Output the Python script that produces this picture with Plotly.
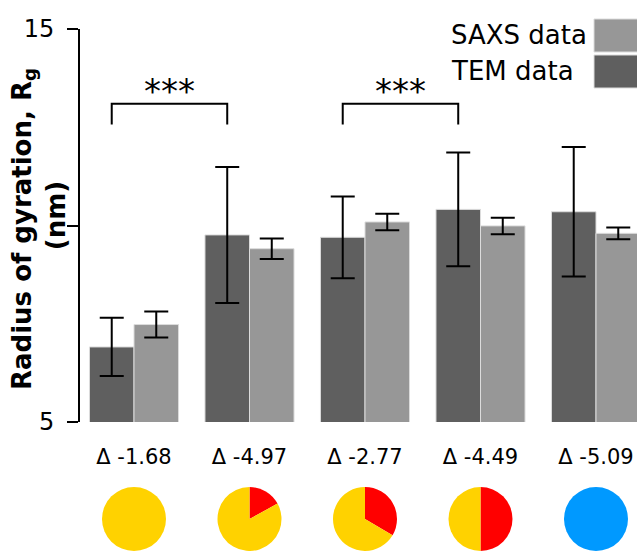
import plotly.graph_objects as go

# ---- data ----
categories = ["Δ -1.68", "Δ -4.97", "Δ -2.77", "Δ -4.49", "Δ -5.09"]
tem_values = [6.91, 9.76, 9.70, 10.41, 10.35]
tem_errors = [0.74, 1.73, 1.04, 1.45, 1.65]
saxs_values = [7.48, 9.41, 10.09, 9.99, 9.80]
saxs_errors = [0.33, 0.26, 0.21, 0.21, 0.15]
red_fraction = [0.0, 0.17, 0.335, 0.5, 0.0]
yellow_fraction = [1.0, 0.83, 0.665, 0.5, 0.0]
blue_fraction = [0.0, 0.0, 0.0, 0.0, 1.0]
brackets = [(0, 1), (2, 3)]          # TEM bars compared
bracket_low, bracket_high, star_y = 12.57, 13.10, 12.86
y_major_ticks = [5, 15]
y_minor_ticks = [10]

# ---- styling / layout constants ----
W, H = 637, 551
FONT = "DejaVu Sans"
TEM_COLOR = "#5f5f5f"
SAXS_COLOR = "#979797"
EDGE = "#dcdcdc"
X_RANGE = [-0.4675, 4.355]
X_DOMAIN = [80 / W, 1.0]
Y_DOMAIN = [(H - 422) / H, (H - 29) / H]
BARGAP = 0.229

x = list(range(len(categories)))
fig = go.Figure()
fig.add_trace(go.Bar(
    x=x, y=tem_values, name="TEM data",
    marker=dict(color=TEM_COLOR, line=dict(color=EDGE, width=1)),
    error_y=dict(type="data", array=tem_errors, color="black", thickness=2, width=12),
    showlegend=False,
))
fig.add_trace(go.Bar(
    x=x, y=saxs_values, name="SAXS data",
    marker=dict(color=SAXS_COLOR, line=dict(color=EDGE, width=1)),
    error_y=dict(type="data", array=saxs_errors, color="black", thickness=2, width=12),
    showlegend=False,
))

# pies below each category, positioned from the x-axis mapping
def x_to_paper(v):
    frac = (v - X_RANGE[0]) / (X_RANGE[1] - X_RANGE[0])
    return X_DOMAIN[0] + frac * (X_DOMAIN[1] - X_DOMAIN[0])

pie_r_px = 33
pie_top_px = 487
for i in x:
    cx = x_to_paper(i)
    labels, vals, cols = [], [], []
    for lab, frac, col in (("red", red_fraction[i], "#FF0000"),
                           ("yellow", yellow_fraction[i], "#FFD200"),
                           ("blue", blue_fraction[i], "#0099FF")):
        if frac > 0:
            labels.append(lab); vals.append(frac); cols.append(col)
    fig.add_trace(go.Pie(
        labels=labels, values=vals, marker=dict(colors=cols, line=dict(width=0)),
        sort=False, direction="clockwise", rotation=0, textinfo="none",
        hoverinfo="skip", showlegend=False,
        domain=dict(x=[cx - pie_r_px / W, cx + pie_r_px / W],
                    y=[0, (H - pie_top_px) / H]),
    ))

# significance brackets
offset = -(1 - BARGAP) / 4
shapes = []
annotations = []
for a, b in brackets:
    x1, x2 = a + offset, b + offset
    shapes.append(dict(type="path", xref="x", yref="y",
                       path=f"M {x1},{bracket_low} L {x1},{bracket_high} L {x2},{bracket_high} L {x2},{bracket_low}",
                       line=dict(color="black", width=2)))
    annotations.append(dict(x=(x1 + x2) / 2, y=star_y, xref="x", yref="y", text="***",
                            showarrow=False, font=dict(family=FONT, size=34, color="black"),
                            yanchor="bottom"))

# legend (text left, swatch right)
legend_items = [("SAXS data", SAXS_COLOR, 19, 52), ("TEM data", TEM_COLOR, 55, 88)]
for name, col, top, bot in legend_items:
    shapes.append(dict(type="rect", xref="paper", yref="paper",
                       x0=594 / W, x1=1.02, y0=(H - bot) / H, y1=(H - top) / H,
                       fillcolor=col, line=dict(color=EDGE, width=1)))
    annotations.append(dict(x=449 / W, y=(H - (top + bot) / 2) / H, xref="paper", yref="paper",
                            text=name, showarrow=False, xanchor="left", yanchor="middle",
                            font=dict(family=FONT, size=26, color="black")))

# y-axis title
annotations.append(dict(x=39 / W, y=(H - 229) / H, xref="paper", yref="paper",
                        text="<b>Radius of gyration, R<sub>g</sub></b><br><b>&nbsp;&nbsp;&nbsp;(nm)</b>",
                        textangle=-90, showarrow=False, xanchor="center", yanchor="middle",
                        font=dict(family=FONT, size=26, color="black")))

fig.update_layout(
    width=W, height=H, margin=dict(l=0, r=0, t=0, b=0),
    paper_bgcolor="white", plot_bgcolor="white",
    barmode="group", bargap=BARGAP, bargroupgap=0,
    font=dict(family=FONT, color="black"),
    shapes=shapes, annotations=annotations, showlegend=False,
    xaxis=dict(domain=X_DOMAIN, range=X_RANGE, tickvals=x, ticktext=categories,
               showline=False, showgrid=False, zeroline=False,
               ticks="outside", ticklen=16, tickcolor="rgba(0,0,0,0)",
               tickfont=dict(family=FONT, size=21, color="black"), automargin=False),
    yaxis=dict(domain=Y_DOMAIN, range=[5, 15], tickvals=y_major_ticks,
               showline=True, linecolor="black", linewidth=2,
               ticks="outside", ticklen=11, tickwidth=2, tickcolor="black",
               ticklabelstandoff=8,
               minor=dict(tickvals=y_minor_ticks, ticks="outside", ticklen=11,
                          tickwidth=2, tickcolor="black", showgrid=False),
               showgrid=False, zeroline=False,
               tickfont=dict(family=FONT, size=24, color="black"), automargin=False),
)

fig.write_html("out.html")
